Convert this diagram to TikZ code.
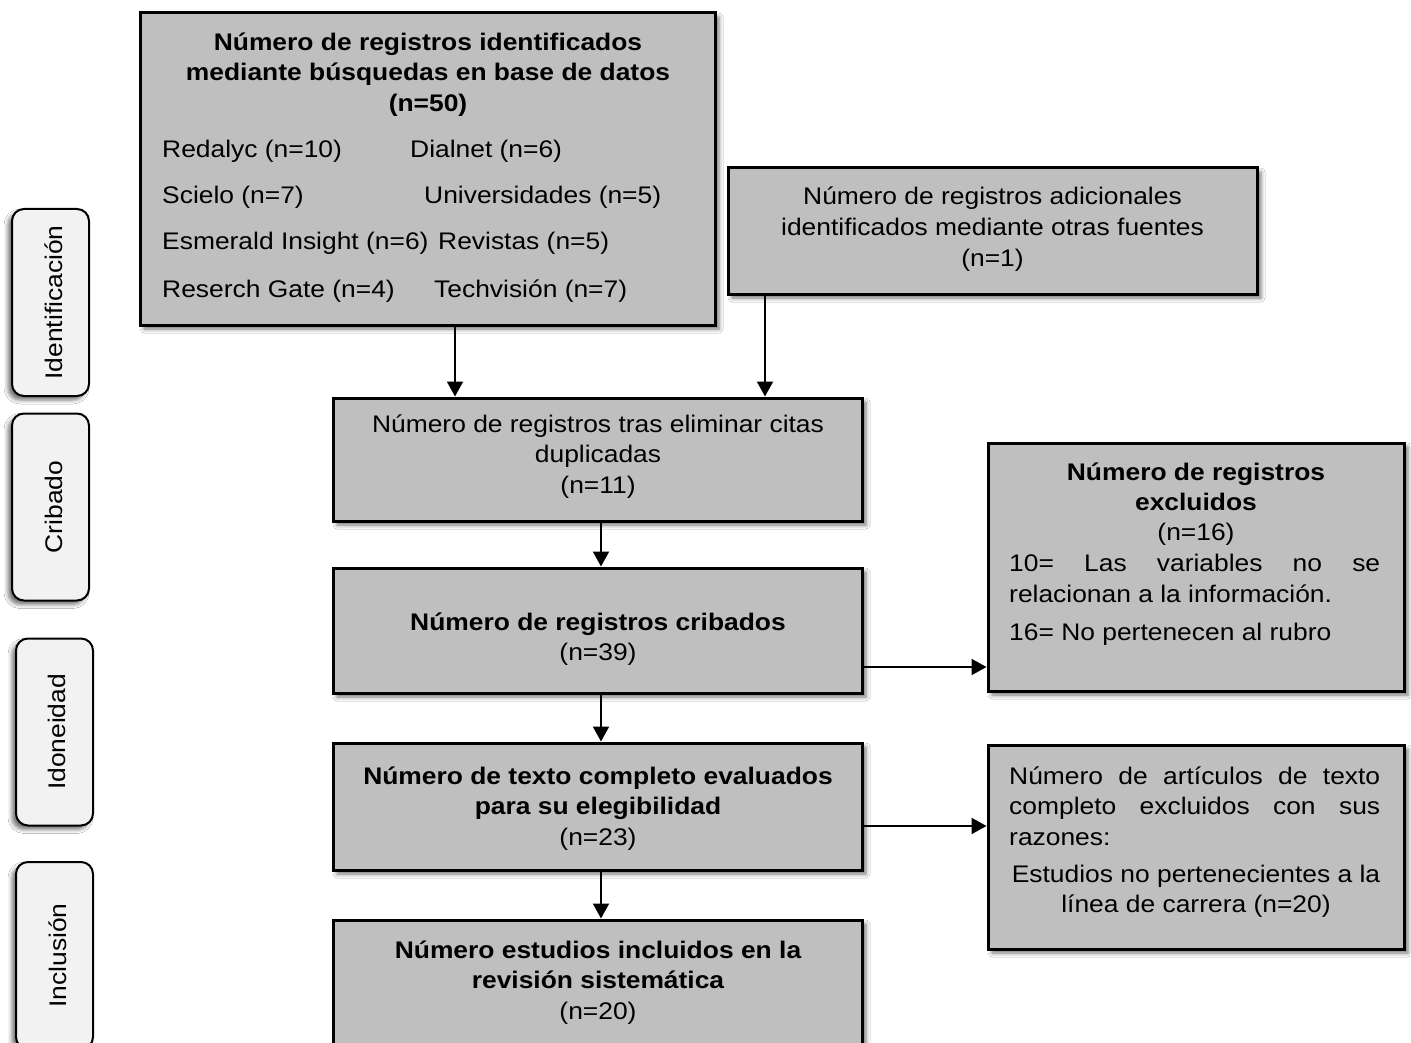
\documentclass[tikz,border=0pt]{standalone}
\usepackage{fontspec}
\setmainfont{Liberation Sans}[FakeStretch=1.1]
\usetikzlibrary{arrows.meta,shadows.blur}
\definecolor{boxgray}{HTML}{BFBFBF}
\definecolor{sidegray}{HTML}{F2F2F2}
\tikzset{
  mainbox/.style={draw=black, line width=3pt, fill=boxgray, inner sep=0pt,
    blur shadow={shadow xshift=4pt, shadow yshift=-4pt, shadow blur radius=4pt, shadow opacity=55}},
  sidebox/.style={draw=black, line width=2pt, fill=sidegray, inner sep=0pt, rounded corners=12pt,
    minimum width=77pt, minimum height=187pt,
    blur shadow={shadow xshift=-4pt, shadow yshift=-4pt, shadow blur radius=4pt, shadow opacity=55}},
  txt/.style={inner sep=0pt, font=\fontsize{24}{30.5}\selectfont},
  btxt/.style={inner sep=0pt, font=\fontsize{24}{30.5}\selectfont\bfseries},
  arr/.style={line width=2pt, -{Triangle[length=15pt,width=16pt]}},
}
\begin{document}
\begin{tikzpicture}[x=1pt,y=-1pt]
\clip (0,0) rectangle (1411,1043);
\fill[white] (0,0) rectangle (1411,1043);

% side boxes
\node[sidebox] (s1) at (50.5,302.5) {};
\node[sidebox] (s2) at (50.5,507) {};
\node[sidebox] (s3) at (54.5,732) {};
\node[sidebox] (s4) at (54.5,955.5) {};
\node[txt, rotate=90, anchor=base] (t1) at (62,302.5) {Identificación};
\node[txt, rotate=90, anchor=base] (t2) at (62,507) {Cribado};
\node[txt, rotate=90, anchor=base] (t3) at (65,732) {Idoneidad};
\node[txt, rotate=90, anchor=base] (t4) at (66,955.5) {Inclusión};

% main boxes
\node[mainbox, minimum width=575pt, minimum height=312pt] (b1) at (427.5,169) {};
\node[mainbox, minimum width=529pt, minimum height=126pt] (b2) at (992.5,231) {};
\node[mainbox, minimum width=529pt, minimum height=123pt] (b3) at (597.5,459.5) {};
\node[mainbox, minimum width=529pt, minimum height=125pt] (b4) at (597.5,630.5) {};
\node[mainbox, minimum width=529pt, minimum height=127pt] (b5) at (597.5,806.5) {};
\node[mainbox, minimum width=529pt, minimum height=140pt] (b6) at (597.5,990) {};
\node[mainbox, minimum width=416pt, minimum height=248pt] (b7) at (1196,567) {};
\node[mainbox, minimum width=416pt, minimum height=204pt] (b8) at (1196,847) {};

% box 1 text
\node[btxt, anchor=base] (b1a) at (428,50.5) {Número de registros identificados};
\node[btxt, anchor=base] (b1b) at (428,81) {mediante búsquedas en base de datos};
\node[btxt, anchor=base] (b1c) at (428,111.5) {(n=50)};
\node[txt, anchor=base west] (l1) at (162,158) {Redalyc (n=10)};
\node[txt, anchor=base west] (r1) at (410,158) {Dialnet (n=6)};
\node[txt, anchor=base west] (l2) at (162,204) {Scielo (n=7)};
\node[txt, anchor=base west] (r2) at (424,204) {Universidades (n=5)};
\node[txt, anchor=base west] (l3) at (162,250) {Esmerald Insight (n=6)};
\node[txt, anchor=base west] (r3) at (438,250) {Revistas (n=5)};
\node[txt, anchor=base west] (l4) at (162,297) {Reserch Gate (n=4)};
\node[txt, anchor=base west] (r4) at (434,297) {Techvisión (n=7)};

% box 2 text
\node[txt, anchor=base] (b2a) at (992.5,205) {Número de registros adicionales};
\node[txt, anchor=base] (b2b) at (992.5,235.5) {identificados mediante otras fuentes};
\node[txt, anchor=base] (b2c) at (992.5,266) {(n=1)};

% box 3 text
\node[txt, anchor=base] (b3a) at (598,432) {Número de registros tras eliminar citas};
\node[txt, anchor=base] (b3b) at (598,462.5) {duplicadas};
\node[txt, anchor=base] (b3c) at (598,493) {(n=11)};

% box 4 text
\node[btxt, anchor=base] (b4a) at (598,630) {Número de registros cribados};
\node[txt, anchor=base] (b4b) at (598,660.5) {(n=39)};

% box 5 text
\node[btxt, anchor=base] (b5a) at (598,784) {Número de texto completo evaluados};
\node[btxt, anchor=base] (b5b) at (598,814.5) {para su elegibilidad};
\node[txt, anchor=base] (b5c) at (598,845) {(n=23)};

% box 6 text
\node[btxt, anchor=base] (b6a) at (598,958) {Número estudios incluidos en la};
\node[btxt, anchor=base] (b6b) at (598,988.5) {revisión sistemática};
\node[txt, anchor=base] (b6c) at (598,1019) {(n=20)};

% box 7 text
\node[btxt, anchor=base] (b7a) at (1196,480) {Número de registros};
\node[btxt, anchor=base] (b7b) at (1196,510.5) {excluidos};
\node[txt, anchor=base] (b7c) at (1196,540.5) {(n=16)};
\node[txt, anchor=base west] (b7d) at (1009,571.5) {\makebox[371pt]{10=\hfill Las\hfill variables\hfill no\hfill se}};
\node[txt, anchor=base west] (b7e) at (1009,602) {relacionan a la información.};
\node[txt, anchor=base west] (b7f) at (1009,640.5) {16= No pertenecen al rubro};

% box 8 text
\node[txt, anchor=base west] (b8a) at (1009,784) {\makebox[371pt]{Número\hfill de\hfill artículos\hfill de\hfill texto}};
\node[txt, anchor=base west] (b8b) at (1009,814.5) {\makebox[371pt]{completo\hfill excluidos\hfill con\hfill sus}};
\node[txt, anchor=base west] (b8c) at (1009,845) {razones:};
\node[txt, anchor=base] (b8d) at (1196,882) {Estudios no pertenecientes a la};
\node[txt, anchor=base] (b8e) at (1196,912.5) {línea de carrera (n=20)};

% connectors
\coordinate (ca) at (455,0);
\coordinate (cb) at (765,0);
\coordinate (cc) at (601,0);
\draw[arr] (b1.south -| ca) -- (b3.north -| ca);
\draw[arr] (b2.south -| cb) -- (b3.north -| cb);
\draw[arr] (b3.south -| cc) -- (b4.north -| cc);
\draw[arr] (b4.south -| cc) -- (b5.north -| cc);
\draw[arr] (b5.south -| cc) -- (b6.north -| cc);
\coordinate (cd) at (0,667);
\coordinate (ce) at (0,826);
\draw[arr] (b4.east |- cd) -- (b7.west |- cd);
\draw[arr] (b5.east |- ce) -- (b8.west |- ce);
\end{tikzpicture}
\end{document}
